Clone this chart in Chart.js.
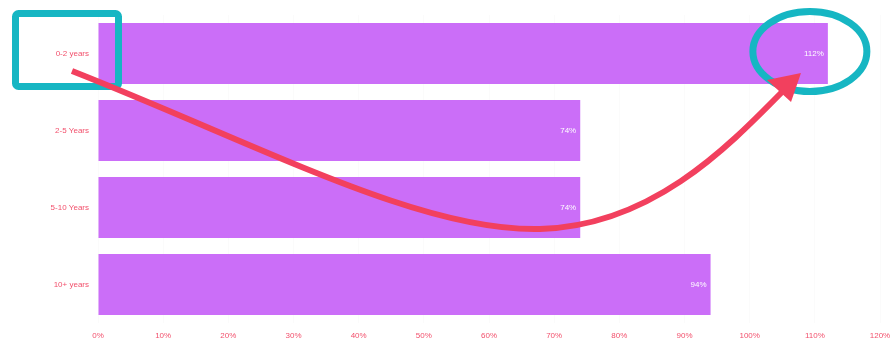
<!DOCTYPE html>
<html>
<head>
<meta charset="utf-8">
<script src="https://cdn.jsdelivr.net/npm/chart.js@4"></script>
<style>
  html, body { margin: 0; padding: 0; background: #fff; }
  #wrap { width: 896px; height: 344px; position: relative; }
</style>
</head>
<body>
<div id="wrap"><canvas id="chart"></canvas></div>
<script>
const categories = ['0-2 years', '2-5 Years', '5-10 Years', '10+ years'];
const values = [112, 74, 74, 94];
const xTicks = [0, 10, 20, 30, 40, 50, 60, 70, 80, 90, 100, 110, 120];

const barColor = '#cb6ef8';
const labelRed = '#f2506c';
const teal = '#16b6c3';
const arrowRed = '#f2405e';

// white value text just inside the end of each bar
const valueLabels = {
  id: 'valueLabels',
  afterDatasetsDraw(chart) {
    const ctx = chart.ctx;
    const meta = chart.getDatasetMeta(0);
    ctx.save();
    ctx.font = '8px "Liberation Sans", Arial, sans-serif';
    ctx.fillStyle = '#ffffff';
    ctx.textAlign = 'right';
    ctx.textBaseline = 'middle';
    meta.data.forEach((bar, i) => {
      ctx.fillText(values[i] + '%', bar.x - 4, bar.y);
    });
    ctx.restore();
  }
};

// callouts: box round the first category, ring round its value, curved arrow between
const callouts = {
  id: 'callouts',
  afterDraw(chart) {
    const ctx = chart.ctx;
    const x = chart.scales.x, y = chart.scales.y;
    const cy = y.getPixelForValue(0);
    const endX = x.getPixelForValue(values[0]);
    ctx.save();

    // box
    ctx.strokeStyle = teal;
    ctx.lineWidth = 7;
    ctx.lineJoin = 'round';
    ctx.beginPath();
    ctx.roundRect(15.5, cy - 40, 103, 73, 3);
    ctx.stroke();

    // ring
    ctx.beginPath();
    ctx.ellipse(endX - 18, cy - 2, 57, 40, 0, 0, Math.PI * 2);
    ctx.stroke();

    // arrow
    ctx.strokeStyle = arrowRed;
    ctx.fillStyle = arrowRed;
    ctx.lineWidth = 6;
    ctx.beginPath();
    ctx.moveTo(72, 71);
    ctx.bezierCurveTo(260, 145, 420, 232, 540, 229);
    ctx.bezierCurveTo(650, 226, 725, 150, 782, 92);
    ctx.stroke();
    // head
    ctx.beginPath();
    ctx.moveTo(801, 73);
    ctx.lineTo(767, 80);
    ctx.lineTo(791, 102);
    ctx.closePath();
    ctx.fill();
    ctx.restore();
  }
};

new Chart(document.getElementById('chart'), {
  type: 'bar',
  data: {
    labels: categories,
    datasets: [{
      data: values,
      backgroundColor: barColor,
      borderWidth: 0,
      categoryPercentage: 1,
      barPercentage: 0.79
    }]
  },
  options: {
    indexAxis: 'y',
    responsive: true,
    maintainAspectRatio: false,
    animation: false,
    layout: { padding: { top: 15, right: 16, left: 0, bottom: 0 } },
    plugins: { legend: { display: false }, tooltip: { enabled: false } },
    scales: {
      x: {
        min: 0,
        max: 120,
        afterBuildTicks(scale) { scale.ticks = xTicks.map(v => ({ value: v })); },
        afterFit(scale) {
          scale.height = 21;
          scale.paddingLeft = 0;
          scale.paddingRight = 0;
        },
        grid: { color: 'rgba(0,0,0,0.015)', drawTicks: false },
        border: { display: false },
        ticks: {
          color: labelRed,
          padding: 8,
          font: { size: 8, family: '"Liberation Sans", Arial, sans-serif' },
          callback: v => v + '%'
        }
      },
      y: {
        afterFit(scale) { scale.width = 98; },
        grid: { display: false },
        border: { display: false },
        ticks: {
          color: labelRed,
          padding: 1,
          font: { size: 8, family: '"Liberation Sans", Arial, sans-serif' }
        }
      }
    }
  },
  plugins: [valueLabels, callouts]
});
</script>
</body>
</html>
